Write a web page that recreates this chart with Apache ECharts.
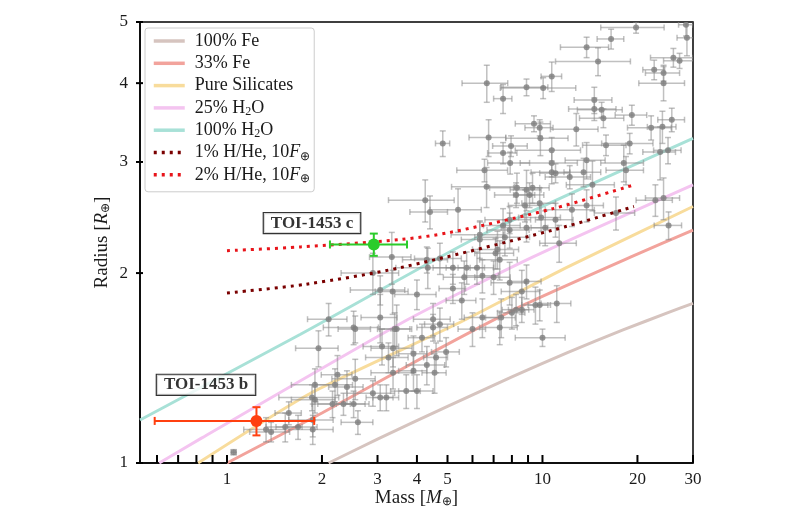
<!DOCTYPE html>
<html>
<head>
<meta charset="utf-8">
<script src="https://cdn.jsdelivr.net/npm/echarts@6.0.0/dist/echarts.min.js"></script>
<style>
  html, body { margin: 0; padding: 0; background: #fff; }
  #chart { width: 800px; height: 530px; }
</style>
</head>
<body>
<div id="chart"></div>
<script>
// axis ranges and ticks
const X_MIN = 0.53, X_MAX = 30;
const Y_MIN = 1, Y_MAX = 5;
const xTickValues = [0.6, 0.7, 0.8, 0.9, 1, 2, 3, 4, 5, 6, 7, 8, 9, 10, 20, 30];
const xTickLabels = ['', '', '', '', '1', '2', '3', '4', '5', '', '', '', '', '10', '20', '30'];
const yTickValues = [1, 2, 3, 4, 5];
const yTickLabels = ['1', '2', '3', '4', '5'];

// composition models (mass, radius)
const fe100Mass = [2.1, 3, 5, 8, 12, 18, 25, 30];
const fe100Radius = [1.0, 1.091, 1.23, 1.369, 1.496, 1.625, 1.731, 1.791];
const fe33Mass = [1, 2, 4.5, 8.5, 19, 30];
const fe33Radius = [1.0, 1.2, 1.5, 1.77, 2.12, 2.34];
const silMass = [0.81, 1.84, 5.47, 11.9, 30];
const silRadius = [1.0, 1.29, 1.67, 2.04, 2.55];
const h2o25Mass = [0.61, 0.83, 3.72, 9.3, 30];
const h2o25Radius = [1.0, 1.095, 1.685, 2.12, 2.76];
const h2o100Mass = [0.53, 1.71, 6.33, 30];
const h2o100Radius = [1.17, 1.6, 2.29, 3.27];
const hhe1Mass = [1.0, 1.78, 3.54, 10.8, 19.5];
const hhe1Radius = [1.86, 1.92, 2.04, 2.34, 2.55];
const hhe2Mass = [1.0, 1.71, 3.54, 5.09, 10.8, 19.5];
const hhe2Radius = [2.17, 2.2, 2.26, 2.32, 2.53, 2.76];

// known planets (gray)
const obsMass = [
  19.8,16.5,13.8,15.0,26,27.2,28.7,28.5,22.6,24.2,
  24.2,6.66,7.5,8.9,10.05,10.7,14.6,14.6,15.4,15.6,
  19.2,25.7,9.4,9.8,9.85,12.8,22.1,24.0,6.75,4.83,
  7.5,7.95,10.7,15.9,18.9,23.6,25.0,7.9,10.7,10.7,
  11.0,6.55,13.8,13.5,12.2,18.1,18.4,8.3,8.9,9.3,
  8.25,9.1,6.65,4.25,4.4,5.4,8.8,9.8,14.4,13.8,
  12.4,9.9,11.0,22.8,24.2,17.1,7.87,7.5,7.87,6.33,
  6.33,8.9,10.2,11.3,7.2,7.32,25.1,4.73,4.3,4.33,
  5.75,7.6,7.1,2.9,3.33,5.2,6.2,5.65,6.45,7.0,
  7.87,8.9,3.06,3.35,4.0,5.2,5.55,8.6,2.1,2.52,
  3.06,3.45,4.5,6.45,7.4,7.32,8.25,9.5,8.0,6.0,
  1.95,2.55,3.1,3.4,3.36,3.9,4.15,3.25,2.24,2.55,
  2.2,2.4,3.36,3.9,4.3,4.55,2.9,3.06,3.2,3.7,
  4.0,1.9,1.86,1.9,1.57,2.16,2.34,2.52,2.6,1.87,
  1.33,1.38,1.53,1.68,1.87,1.05,4.95,4.6,8.6,9.8,
  11.1,10.0,4.5,4.73
];
const obsRadius = [
  4.9,4.7,4.56,4.33,4.39,4.34,4.72,4.95,4.2,4.15,
  4.0,4.0,3.78,3.94,3.93,4.1,3.76,3.64,3.63,3.52,
  3.56,3.5,3.45,3.4,3.27,3.38,3.4,3.41,3.28,3.21,
  3.1,3.18,3.13,3.19,3.21,3.11,3.13,2.99,2.99,2.89,
  2.88,2.91,3.02,2.89,2.84,2.99,2.91,2.73,2.71,2.73,
  2.66,2.66,2.74,2.61,2.5,2.52,2.56,2.58,2.76,2.56,
  2.52,2.45,2.43,2.61,2.63,2.49,2.43,2.38,2.34,2.3,
  2.26,2.36,2.36,2.23,2.18,2.1,2.38,2.11,2.1,2.04,
  2.04,2.28,2.15,2.0,2.12,2.04,2.04,1.97,1.98,1.97,
  1.93,1.94,1.88,1.87,1.85,1.89,1.81,1.87,1.69,1.64,
  1.7,1.63,1.69,1.7,1.7,1.64,1.75,1.78,1.73,1.63,
  1.52,1.63,1.53,1.63,1.52,1.49,1.58,1.47,1.38,1.36,
  1.33,1.32,1.39,1.4,1.43,1.39,1.29,1.27,1.27,1.3,
  1.3,1.33,1.27,1.26,1.2,1.24,1.24,1.24,1.16,1.17,
  1.13,1.12,1.14,1.14,1.13,1.04,1.5,1.47,1.75,1.78,
  1.79,1.58,1.64,1.66
];
const obsMassErr = [
  4.5,1.6,2.4,4.0,4.0,3,2,1.5,1.8,3.0,
  4.0,1.1,0.5,1.5,2.7,0.8,2.0,2.5,2.5,2.5,
  2.2,2.5,1.2,1.0,2.2,2.2,3.5,2.5,0.9,0.25,
  0.8,1.0,2.5,2.5,3.5,2.8,2.5,1.2,2.2,1.5,
  1.2,1.2,2.0,1.8,2.0,2.8,2.5,1.5,1.0,1.2,
  1.2,1.0,1.5,1.0,0.6,1.0,1.0,1.2,2.5,1.8,
  2.2,1.5,1.5,3.0,3.0,2.5,1.3,1.0,1.2,1.2,
  0.8,1.5,1.0,1.5,1.2,1.0,2.5,0.8,0.7,0.9,
  0.8,1.5,1.0,0.6,0.5,0.7,0.8,0.8,0.8,0.9,
  1.0,1.0,0.6,0.4,0.6,0.5,0.6,1.2,0.3,0.5,
  0.4,0.4,0.6,0.8,0.8,1.0,0.8,0.9,0.8,0.6,
  0.3,0.3,0.4,0.4,0.5,0.4,0.4,0.5,0.25,0.4,
  0.3,0.3,0.5,0.4,0.6,0.4,0.5,0.3,0.3,0.4,
  0.5,0.3,0.4,0.3,0.15,0.3,0.4,0.3,0.3,0.3,
  0.2,0.2,0.2,0.25,0.3,0.02,0.5,0.4,0.8,0.8,
  1.2,1.8,0.5,0.5
];
const obsRadiusErr = [
  0.1,0.17,0.17,0.22,0.15,0.12,0.3,0.2,0.15,0.12,
  0.25,0.27,0.2,0.12,0.15,0.22,0.18,0.15,0.1,0.12,
  0.13,0.15,0.1,0.1,0.2,0.2,0.15,0.2,0.22,0.15,
  0.12,0.12,0.15,0.12,0.12,0.3,0.15,0.12,0.15,0.12,
  0.1,0.12,0.2,0.15,0.12,0.2,0.15,0.15,0.2,0.15,
  0.12,0.12,0.2,0.2,0.15,0.2,0.15,0.15,0.25,0.15,
  0.15,0.12,0.15,0.15,0.2,0.15,0.12,0.15,0.15,0.12,
  0.15,0.12,0.15,0.15,0.15,0.15,0.12,0.12,0.1,0.15,
  0.12,0.15,0.12,0.15,0.2,0.12,0.12,0.12,0.12,0.12,
  0.15,0.12,0.1,0.15,0.1,0.1,0.12,0.15,0.1,0.1,
  0.15,0.15,0.1,0.12,0.12,0.1,0.1,0.12,0.1,0.1,
  0.1,0.08,0.1,0.1,0.1,0.1,0.08,0.08,0.1,0.1,
  0.08,0.08,0.08,0.1,0.1,0.1,0.06,0.06,0.06,0.08,
  0.08,0.08,0.06,0.06,0.05,0.06,0.05,0.06,0.05,0.07,
  0.05,0.04,0.06,0.05,0.06,0.01,0.08,0.08,0.08,0.1,
  0.12,0.05,0.08,0.1
];

// TOI-1453 planets: mass, radius, mass err, radius err
const toiC = [2.92, 2.22, 0.8, 0.09];
const toiB = [1.24, 1.166, 0.65, 0.06];
const toiLabelNames = ['TOI-1453 c', 'TOI-1453 b'];
const toiLabelMass = [1.86, 0.858];
const toiLabelRadius = [2.40, 1.33];

const SERIF = 'Liberation Serif';

function pairs(xs, ys) {
  return xs.map((v, i) => [v, ys[i]]);
}

// error bar + dot drawn through the axes
function errBars(lineColor, dotColor, lineW, cap, dotR) {
  return function (params, api) {
    const m = api.value(0), r = api.value(1), dm = api.value(2), dr = api.value(3);
    const c = api.coord([m, r]);
    const l = api.coord([Math.max(m - dm, 0.01), r]);
    const rr = api.coord([m + dm, r]);
    const t = api.coord([m, r + dr]);
    const b = api.coord([m, Math.max(r - dr, 0.01)]);
    const st = { stroke: lineColor, lineWidth: lineW };
    const kids = [
      { type: 'line', shape: { x1: l[0], y1: c[1], x2: rr[0], y2: c[1] }, style: st },
      { type: 'line', shape: { x1: c[0], y1: t[1], x2: c[0], y2: b[1] }, style: st },
      { type: 'line', shape: { x1: l[0], y1: c[1] - cap, x2: l[0], y2: c[1] + cap }, style: st },
      { type: 'line', shape: { x1: rr[0], y1: c[1] - cap, x2: rr[0], y2: c[1] + cap }, style: st },
      { type: 'line', shape: { x1: c[0] - cap, y1: t[1], x2: c[0] + cap, y2: t[1] }, style: st },
      { type: 'line', shape: { x1: c[0] - cap, y1: b[1], x2: c[0] + cap, y2: b[1] }, style: st },
      { type: 'circle', shape: { cx: c[0], cy: c[1], r: dotR }, style: { fill: dotColor } }
    ];
    return { type: 'group', children: kids };
  };
}

function modelLine(name, xs, ys, color) {
  return {
    name: name, type: 'line', data: pairs(xs, ys), smooth: 0.2,
    showSymbol: false, symbol: 'none', silent: true, z: 2,
    lineStyle: { color: color, width: 3 },
    itemStyle: { color: color }
  };
}

function dottedLine(name, xs, ys, color) {
  return {
    name: name, type: 'line', data: pairs(xs, ys), smooth: 0.3,
    showSymbol: false, symbol: 'none', silent: true, z: 6,
    lineStyle: { color: color, width: 3, type: [3, 5] },
    itemStyle: { color: color }
  };
}

const chart = echarts.init(document.getElementById('chart'), null, { renderer: 'canvas' });

const richText = {
  it: { fontFamily: SERIF, fontStyle: 'italic', fontSize: 19, color: '#1a1a1a' },
  sub: { fontFamily: SERIF, fontSize: 12, color: '#1a1a1a', padding: [8, 0, 0, 0] }
};

const option = {
  animation: false,
  backgroundColor: '#fff',
  grid: {
    left: 140, right: 107, top: 22, bottom: 67,
    show: true, borderColor: '#000', borderWidth: 1.5, backgroundColor: 'transparent'
  },
  legend: {
    orient: 'vertical', left: 145, top: 28,
    data: ['100% Fe', '33% Fe', 'Pure Silicates', '25% H2O', '100% H2O', '1% H/He, 10F', '2% H/He, 10F'],
    selectedMode: false,
    itemWidth: 31, itemHeight: 14, itemGap: 2.3,
    padding: [3, 4, 7, 7],
    borderColor: '#cccccc', borderWidth: 1, borderRadius: 3,
    backgroundColor: 'rgba(255,255,255,0.85)',
    itemStyle: { opacity: 0 },
    lineStyle: { width: 3.5 },
    formatter: function (name) {
      return name.replace('H2O', 'H{sub|2}O').replace('10F', '10{it|F}{sub|⊕}');
    },
    textStyle: {
      fontFamily: SERIF, fontSize: 18, color: '#1a1a1a', lineHeight: 20,
      padding: [0, 0, 0, 5],
      rich: {
        it: { fontFamily: SERIF, fontStyle: 'italic', fontSize: 18, color: '#1a1a1a' },
        sub: { fontFamily: SERIF, fontSize: 12, color: '#1a1a1a', lineHeight: 14, padding: [8, 0, 0, 0] }
      }
    }
  },
  xAxis: {
    type: 'log', logBase: 10, min: X_MIN, max: X_MAX,
    name: 'Mass [{it|M}{sub|⊕}]', nameLocation: 'middle', nameGap: 25,
    nameTextStyle: { fontFamily: SERIF, fontSize: 19, color: '#1a1a1a', rich: richText },
    axisLine: { lineStyle: { color: '#000', width: 1.5 } },
    axisTick: { show: false }, axisLabel: { show: false },
    splitLine: { show: false }, minorTick: { show: false }
  },
  yAxis: {
    type: 'log', logBase: 10, min: Y_MIN, max: Y_MAX,
    name: 'Radius [{it|R}{sub|⊕}]', nameLocation: 'middle', nameGap: 28,
    nameTextStyle: { fontFamily: SERIF, fontSize: 19, color: '#1a1a1a', rich: richText },
    axisLine: { lineStyle: { color: '#000', width: 1.5 } },
    axisTick: { show: false }, axisLabel: { show: false },
    splitLine: { show: false }, minorTick: { show: false }
  },
  series: [
    modelLine('100% Fe', fe100Mass, fe100Radius, '#d6c4bf'),
    modelLine('33% Fe', fe33Mass, fe33Radius, '#f2a39c'),
    modelLine('Pure Silicates', silMass, silRadius, '#f8dc9c'),
    modelLine('25% H2O', h2o25Mass, h2o25Radius, '#f4c4f0'),
    modelLine('100% H2O', h2o100Mass, h2o100Radius, '#a8e1d7'),
    {
      name: 'known planets', type: 'custom', clip: true, silent: true, z: 4,
      renderItem: errBars('rgba(140,140,140,0.55)', 'rgba(125,125,125,0.8)', 1.5, 3, 3),
      encode: { x: 0, y: 1 },
      data: obsMass.map((m, i) => [m, obsRadius[i], obsMassErr[i], obsRadiusErr[i]])
    },
    dottedLine('1% H/He, 10F', hhe1Mass, hhe1Radius, '#7a0000'),
    dottedLine('2% H/He, 10F', hhe2Mass, hhe2Radius, '#e8141a'),
    {
      name: 'TOI-1453 c', type: 'custom', clip: true, silent: true, z: 8,
      renderItem: errBars('#2bcc2b', '#2bcc2b', 2, 4, 6),
      encode: { x: 0, y: 1 },
      data: [toiC]
    },
    {
      name: 'TOI-1453 b', type: 'custom', clip: true, silent: true, z: 8,
      renderItem: errBars('#ff4010', '#ff4010', 2, 4, 6),
      encode: { x: 0, y: 1 },
      data: [toiB]
    },
    {
      name: 'labels', type: 'scatter', symbolSize: 0, silent: true, z: 9,
      data: toiLabelNames.map((n, i) => ({ name: n, value: [toiLabelMass[i], toiLabelRadius[i]] })),
      label: {
        show: true, position: 'inside', formatter: '{b}',
        fontFamily: SERIF, fontWeight: 'bold', fontSize: 17, color: '#000',
        backgroundColor: '#fff', borderColor: '#000', borderWidth: 1.2,
        padding: [2, 7, 1, 7]
      }
    },
    {
      // x ticks and labels
      name: 'xticks', type: 'custom', clip: false, silent: true, z: 10,
      encode: { x: 0, y: 1 },
      data: xTickValues.map(v => [v, Y_MIN]),
      renderItem: function (params, api) {
        const p = api.coord([api.value(0), Y_MIN]);
        const lab = xTickLabels[params.dataIndex];
        return {
          type: 'group', children: [
            { type: 'line', shape: { x1: p[0], y1: p[1], x2: p[0], y2: p[1] - 8 }, style: { stroke: '#000', lineWidth: 2 } },
            { type: 'text', x: p[0], y: p[1] + 8, style: { text: lab, align: 'center', verticalAlign: 'top', fontFamily: SERIF, fontSize: 17, fill: '#1a1a1a' } }
          ]
        };
      }
    },
    {
      // y ticks and labels
      name: 'yticks', type: 'custom', clip: false, silent: true, z: 10,
      encode: { x: 0, y: 1 },
      data: yTickValues.map(v => [X_MIN, v]),
      renderItem: function (params, api) {
        const p = api.coord([X_MIN, api.value(1)]);
        const lab = yTickLabels[params.dataIndex];
        return {
          type: 'group', children: [
            { type: 'line', shape: { x1: p[0] - 4, y1: p[1], x2: p[0] + 3, y2: p[1] }, style: { stroke: '#000', lineWidth: 2 } },
            { type: 'text', x: p[0] - 12, y: p[1], style: { text: lab, align: 'right', verticalAlign: 'middle', fontFamily: SERIF, fontSize: 17, fill: '#1a1a1a' } }
          ]
        };
      }
    }
  ]
};

chart.setOption(option);
</script>
</body>
</html>
